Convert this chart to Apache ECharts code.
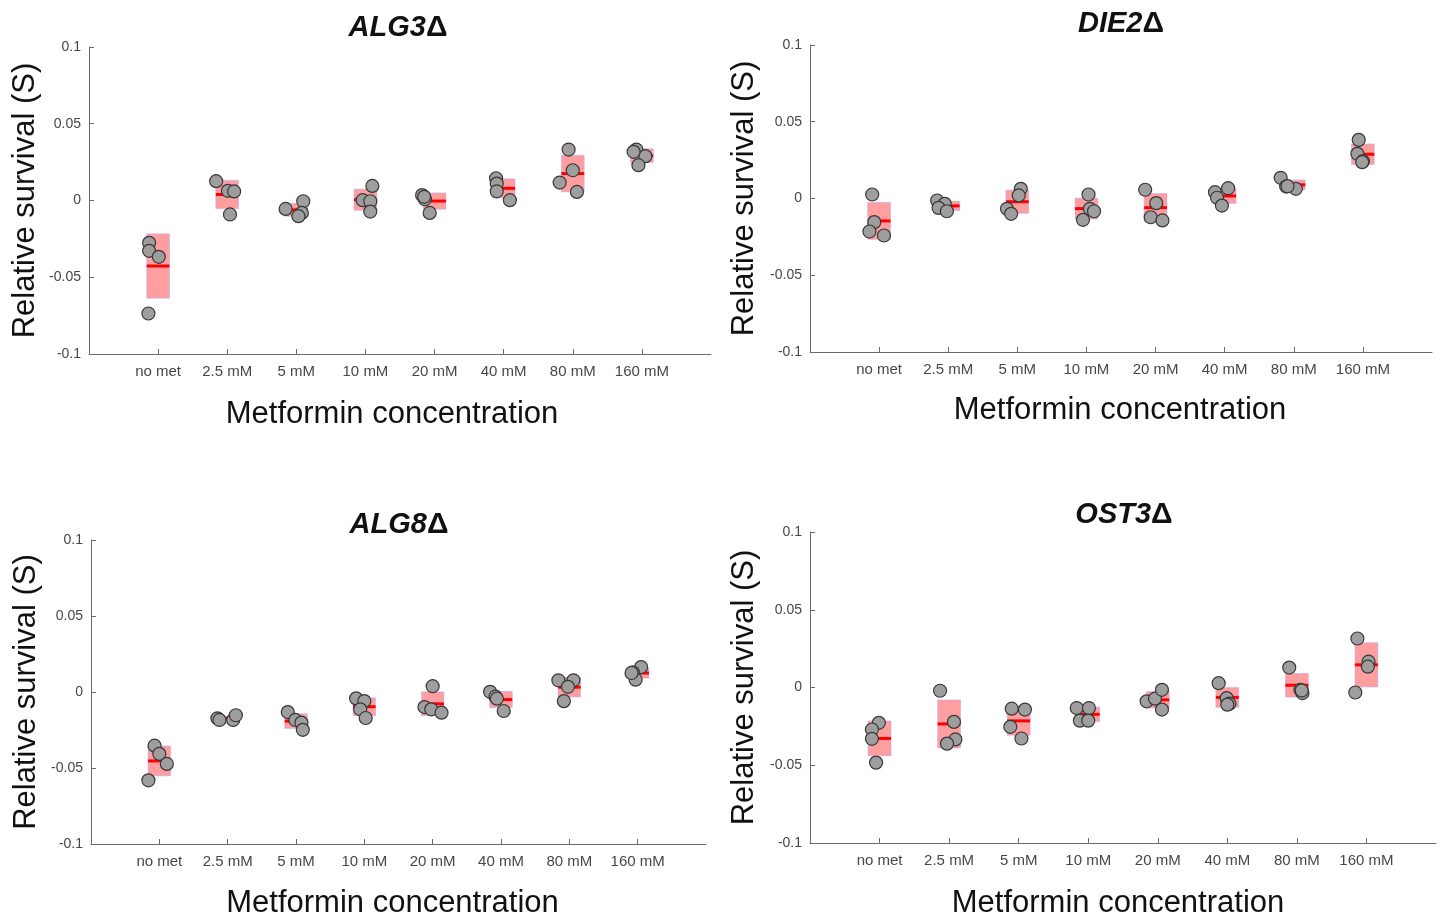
<!DOCTYPE html>
<html>
<head>
<meta charset="utf-8">
<script src="https://cdn.jsdelivr.net/npm/echarts@6/dist/echarts.min.js"></script>
<style>
html,body{margin:0;padding:0;background:#fff;}
#chart{width:1440px;height:920px;}
</style>
</head>
<body>
<div id="chart"></div>
<script>
// ---- data ----
const categories = ['no met', '2.5 mM', '5 mM', '10 mM', '20 mM', '40 mM', '80 mM', '160 mM'];
const yTicks = [-0.1, -0.05, 0, 0.05, 0.1];
const panelGenes = ['ALG3', 'DIE2', 'ALG8', 'OST3'];

// Relative survival per concentration (replicates)
const alg3Values = [
  [-0.0276, -0.0328, -0.0367, -0.0736],
  [0.0126, 0.0063, 0.0059, -0.0091],
  [-0.0055, -0.0005, -0.0081, -0.0102],
  [0.0095, 0.0002, -0.0005, -0.0072],
  [0.0035, 0.0008, 0.0024, -0.0081],
  [0.0145, 0.0110, 0.0060, 0.0002],
  [0.0332, 0.0197, 0.0117, 0.0056],
  [0.0332, 0.0289, 0.0230, 0.0317]
];
const alg3Jitter = [
  [-0.13, -0.13, 0.01, -0.14],
  [-0.16, 0.01, 0.10, 0.04],
  [-0.155, 0.10, 0.08, 0.03],
  [0.10, -0.04, 0.07, 0.07],
  [-0.18, -0.14, -0.15, -0.07],
  [-0.11, -0.10, -0.10, 0.09],
  [-0.06, 0.0, -0.19, 0.06],
  [-0.08, 0.05, -0.05, -0.12]
];

const die2Values = [
  [0.0026, -0.0154, -0.0215, -0.0241],
  [-0.0013, -0.0035, -0.0061, -0.0083],
  [0.0063, 0.0020, -0.0067, -0.0100],
  [0.0026, -0.0067, -0.0083, -0.0139],
  [0.0057, -0.0030, -0.0122, -0.0143],
  [0.0041, 0.0067, 0.0005, -0.0046],
  [0.0135, 0.0078, 0.0063, 0.0080],
  [0.0382, 0.0291, 0.0243, 0.0237]
];
const die2Jitter = [
  [-0.10, -0.07, -0.14, 0.07],
  [-0.16, -0.05, -0.14, -0.02],
  [0.05, 0.02, -0.15, -0.09],
  [0.03, 0.05, 0.11, -0.05],
  [-0.15, 0.01, -0.07, 0.10],
  [-0.14, 0.05, -0.11, -0.04],
  [-0.19, -0.11, 0.03, -0.09],
  [-0.06, -0.08, 0.0, -0.01]
];

const alg8Values = [
  [-0.0353, -0.0407, -0.0473, -0.0581],
  [-0.0173, -0.0184, -0.0184, -0.0153],
  [-0.0132, -0.0184, -0.0201, -0.0249],
  [-0.0042, -0.0060, -0.0114, -0.0171],
  [0.0038, -0.0099, -0.0114, -0.0136],
  [0.0001, -0.0031, -0.0044, -0.0125],
  [0.0077, 0.0077, 0.0034, -0.0060],
  [0.0164, 0.0129, 0.0081, 0.0125]
];
const alg8Jitter = [
  [-0.07, 0.0, 0.11, -0.16],
  [-0.15, -0.12, 0.08, 0.12],
  [-0.12, -0.01, 0.08, 0.10],
  [-0.12, 0.0, -0.06, 0.02],
  [0.0, -0.12, -0.02, 0.13],
  [-0.16, -0.08, -0.06, 0.04],
  [-0.16, 0.06, -0.02, -0.08],
  [0.05, -0.07, -0.03, -0.09]
];

const ost3Values = [
  [-0.0227, -0.0270, -0.0330, -0.0483],
  [-0.0021, -0.0221, -0.0334, -0.0361],
  [-0.0136, -0.0142, -0.0253, -0.0328],
  [-0.0132, -0.0132, -0.0213, -0.0213],
  [-0.0089, -0.0072, -0.0015, -0.0142],
  [0.0028, -0.0068, -0.0104, -0.0110],
  [0.0128, -0.0015, -0.0036, -0.0019],
  [0.0315, 0.0166, 0.0134, -0.0032]
];
const ost3Jitter = [
  [-0.01, -0.11, -0.11, -0.05],
  [-0.13, 0.07, 0.09, -0.03],
  [-0.10, 0.09, -0.12, 0.04],
  [-0.165, 0.01, -0.12, 0.0],
  [-0.16, -0.04, 0.06, 0.06],
  [-0.125, -0.01, 0.03, 0.0],
  [-0.11, 0.05, 0.08, 0.07],
  [-0.13, 0.03, 0.02, -0.16]
];

// ---- layout / style ----
const panels = [
  { values: alg3Values, jitter: alg3Jitter, grid: { left: 89, top: 47, width: 622, height: 307 }, titleX: 393, titleTop: 8, xNameShift: 16, xNameGap: 45, yNameGap: 48 },
  { values: die2Values, jitter: die2Jitter, grid: { left: 810, top: 45, width: 622, height: 307 }, titleX: 1116, titleTop: 4, xNameShift: 2, xNameGap: 43, yNameGap: 50 },
  { values: alg8Values, jitter: alg8Jitter, grid: { left: 91, top: 540, width: 615, height: 306 }, titleX: 394, titleTop: 505, xNameShift: 12, xNameGap: 44, yNameGap: 49 },
  { values: ost3Values, jitter: ost3Jitter, grid: { left: 810, top: 532, width: 626, height: 313 }, titleX: 1119, titleTop: 495, xNameShift: 10, xNameGap: 45, yNameGap: 50 }
];

const FONT = '"Liberation Sans", Arial, Helvetica, sans-serif';
const AXIS_COLOR = '#6a6a6a';
const LABEL_COLOR = '#474747';
const BOX_HALF = 0.165;

function stats(arr) {
  const n = arr.length;
  const m = arr.reduce((a, b) => a + b, 0) / n;
  const v = arr.reduce((a, b) => a + (b - m) * (b - m), 0) / (n - 1);
  return [m, Math.sqrt(v)];
}

const catTickValues = categories.map((c, i) => i + 1);

const grids = [], xAxes = [], yAxes = [], series = [], titles = [];
panels.forEach((p, k) => {
  grids.push(Object.assign({}, p.grid));
  titles.push({
    text: '{g|' + panelGenes[k] + '}{d|Δ}',
    left: p.titleX,
    top: p.titleTop,
    textAlign: 'center',
    textStyle: {
      fontFamily: FONT, fontSize: 29, color: '#111',
      rich: {
        g: { fontFamily: FONT, fontSize: 29, fontWeight: 'bold', fontStyle: 'italic', color: '#111' },
        d: { fontFamily: FONT, fontSize: 30, fontWeight: 'bold', fontStyle: 'normal', color: '#111' }
      }
    }
  });
  xAxes.push({
    gridIndex: k, type: 'value', min: 0, max: categories.length + 1, interval: 1,
    name: 'Metformin concentration', nameLocation: 'middle', nameGap: p.xNameGap,
    nameTextStyle: { fontFamily: FONT, fontSize: 31, color: '#111', padding: [0, p.xNameShift, 0, 0] },
    axisLine: { show: true, onZero: false, lineStyle: { color: AXIS_COLOR, width: 1 } },
    axisTick: { show: true, inside: true, length: 5, customValues: catTickValues, lineStyle: { color: AXIS_COLOR } },
    axisLabel: {
      show: true, customValues: catTickValues, margin: 10,
      fontFamily: FONT, fontSize: 15, color: LABEL_COLOR,
      formatter: v => categories[Math.round(v) - 1] || ''
    },
    splitLine: { show: false }
  });
  yAxes.push({
    gridIndex: k, type: 'value', min: yTicks[0], max: yTicks[yTicks.length - 1], interval: 0.05,
    name: 'Relative survival (S)', nameLocation: 'middle', nameGap: p.yNameGap,
    nameTextStyle: { fontFamily: FONT, fontSize: 31, color: '#111' },
    axisLine: { show: true, onZero: false, lineStyle: { color: AXIS_COLOR, width: 1 } },
    axisTick: { show: true, inside: true, length: 5, lineStyle: { color: AXIS_COLOR } },
    axisLabel: {
      margin: 8, fontFamily: FONT, fontSize: 14, color: LABEL_COLOR,
      formatter: v => String(+(+v).toFixed(2))
    },
    splitLine: { show: false }
  });

  const boxData = p.values.map((vals, i) => {
    const s = stats(vals);
    return [i + 1, s[0], s[1]];
  });
  series.push({
    type: 'custom', xAxisIndex: k, yAxisIndex: k, z: 2,
    data: boxData,
    encode: { x: 0, y: 1 },
    renderItem: function (params, api) {
      const x = api.value(0), m = api.value(1), sd = api.value(2);
      const tl = api.coord([x - BOX_HALF, m + sd]);
      const br = api.coord([x + BOX_HALF, m - sd]);
      const ml = api.coord([x - BOX_HALF, m]);
      const mr = api.coord([x + BOX_HALF, m]);
      return {
        type: 'group',
        children: [
          { type: 'rect', shape: { x: tl[0], y: tl[1], width: br[0] - tl[0], height: br[1] - tl[1] },
            style: { fill: 'rgba(255,0,0,0.38)', stroke: 'rgba(190,170,255,0.55)', lineWidth: 1 } },
          { type: 'line', shape: { x1: ml[0], y1: ml[1], x2: mr[0], y2: mr[1] },
            style: { stroke: '#ff0000', lineWidth: 3 } }
        ]
      };
    }
  });

  const pts = [];
  p.values.forEach((vals, i) => {
    vals.forEach((v, j) => pts.push([i + 1 + p.jitter[i][j], v]));
  });
  series.push({
    type: 'scatter', xAxisIndex: k, yAxisIndex: k, z: 3,
    data: pts, symbol: 'circle', symbolSize: 13,
    itemStyle: { color: '#9e9e9e', borderColor: '#383838', borderWidth: 1.2, opacity: 1 },
    emphasis: { disabled: true }
  });
});

const chart = echarts.init(document.getElementById('chart'), null, { renderer: 'canvas' });
chart.setOption({
  backgroundColor: '#ffffff',
  animation: false,
  title: titles,
  grid: grids,
  xAxis: xAxes,
  yAxis: yAxes,
  series: series
});
</script>
</body>
</html>
